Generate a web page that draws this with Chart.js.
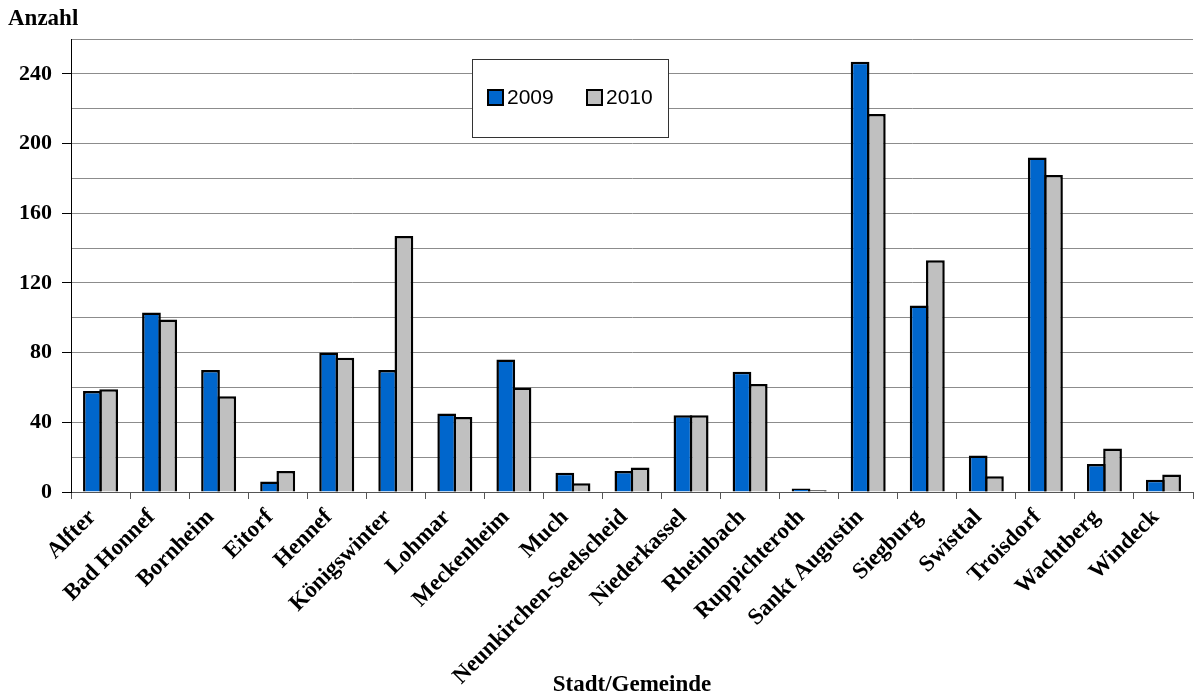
<!DOCTYPE html>
<html lang="de">
<head>
<meta charset="utf-8">
<title>Anzahl je Stadt/Gemeinde 2009 und 2010</title>
<script src="https://cdn.jsdelivr.net/npm/chart.js@4/dist/chart.umd.min.js"></script>
<style>
  html, body { margin: 0; padding: 0; background: #fff; }
  #wrap { position: relative; width: 1195px; height: 697px; }
</style>
</head>
<body>
<div id="wrap"><canvas id="chart" width="1195" height="697"></canvas></div>
<script>
// Städte und Gemeinden
const categories = [
  'Alfter', 'Bad Honnef', 'Bornheim', 'Eitorf', 'Hennef', 'Königswinter',
  'Lohmar', 'Meckenheim', 'Much', 'Neunkirchen-Seelscheid', 'Niederkassel',
  'Rheinbach', 'Ruppichteroth', 'Sankt Augustin', 'Siegburg', 'Swisttal',
  'Troisdorf', 'Wachtberg', 'Windeck'
];

// Anzahl je Jahr
const values2009 = [58, 103, 70, 6, 80, 70, 45, 76, 11, 12, 44, 69, 2, 247, 107, 21, 192, 16, 7];
const values2010 = [59, 99, 55, 12, 77, 147, 43, 60, 5, 14, 44, 62, 1, 217, 133, 9, 182, 25, 10];

const seriesLabels = ['2009', '2010'];

// Achsenbeschriftung: Linien alle 20, beschriftet alle 40
const yMin = 0;
const yMax = 260;
const yStep = 20;
const yLabelEvery = 40;

const yAxisTitle = 'Anzahl';
const xAxisTitle = 'Stadt/Gemeinde';

const SERIF = '"Liberation Serif", "Times New Roman", serif';
const SANS = '"Liberation Sans", Arial, sans-serif';

// Legende im Diagramm und Titel der y-Achse oben links
const overlay = {
  id: 'overlay',
  afterDraw(chart) {
    const ctx = chart.ctx;
    ctx.save();
    // y-Achsentitel
    ctx.fillStyle = '#000';
    ctx.font = 'bold 23px ' + SERIF;
    ctx.textAlign = 'left';
    ctx.textBaseline = 'alphabetic';
    ctx.fillText(yAxisTitle, 8, 25);

    // Legendenrahmen
    ctx.fillStyle = '#fff';
    ctx.fillRect(472, 59, 196, 78);
    ctx.strokeStyle = '#333';
    ctx.lineWidth = 1;
    ctx.strokeRect(472.5, 59.5, 196, 78);

    const itemX = [488, 587];
    chart.data.datasets.forEach((ds, i) => {
      const x = itemX[i];
      ctx.fillStyle = ds.backgroundColor;
      ctx.fillRect(x, 90, 15, 15);
      ctx.strokeStyle = '#000';
      ctx.lineWidth = 2;
      ctx.strokeRect(x, 90, 15, 15);
      ctx.fillStyle = '#000';
      ctx.font = '21px ' + SANS;
      ctx.textAlign = 'left';
      ctx.textBaseline = 'middle';
      ctx.fillText(ds.label, x + 19, 98);
    });
    ctx.restore();
  }
};

new Chart(document.getElementById('chart'), {
  type: 'bar',
  data: {
    labels: categories,
    datasets: [
      {
        label: seriesLabels[0],
        data: values2009,
        backgroundColor: '#0066CC',
        borderColor: '#000',
        borderWidth: 2.5
      },
      {
        label: seriesLabels[1],
        data: values2010,
        backgroundColor: '#C0C0C0',
        borderColor: '#000',
        borderWidth: 2.5
      }
    ]
  },
  options: {
    responsive: false,
    animation: false,
    events: [],
    layout: { padding: { top: 39, left: 0, right: 2, bottom: 0 } },
    datasets: {
      // benachbarte Säulen teilen sich den Rand
      bar: { barPercentage: 1.154, categoryPercentage: 0.55 }
    },
    plugins: {
      legend: { display: false },
      tooltip: { enabled: false }
    },
    scales: {
      x: {
        grid: {
          offset: true,
          drawOnChartArea: false,
          drawTicks: true,
          tickLength: 7,
          tickColor: '#555'
        },
        border: { display: true, color: '#555', width: 1 },
        ticks: {
          autoSkip: false,
          maxRotation: 45,
          minRotation: 45,
          padding: 5,
          labelOffset: -8,
          color: '#000',
          font: { family: SERIF, size: 23, weight: 'bold' }
        },
        title: {
          display: true,
          text: xAxisTitle,
          color: '#000',
          font: { family: SERIF, size: 23, weight: 'bold' },
          padding: { top: 0, bottom: -2 }
        },
        afterFit(scale) { scale.height = 205; }
      },
      y: {
        min: yMin,
        max: yMax,
        grid: {
          color: '#8c8c8c',
          lineWidth: 1,
          drawTicks: true,
          tickLength: 9,
          tickColor: (c) => (c.tick && c.tick.value % yLabelEvery === 0) ? '#000' : 'rgba(0,0,0,0)'
        },
        border: { display: true, color: '#000', width: 1 },
        ticks: {
          stepSize: yStep,
          padding: 10,
          color: '#000',
          font: { family: SERIF, size: 22, weight: 'bold' },
          callback: (v) => (v % yLabelEvery === 0 ? String(v) : '')
        },
        afterFit(scale) { scale.width = 71; }
      }
    }
  },
  plugins: [overlay]
});
</script>
</body>
</html>
